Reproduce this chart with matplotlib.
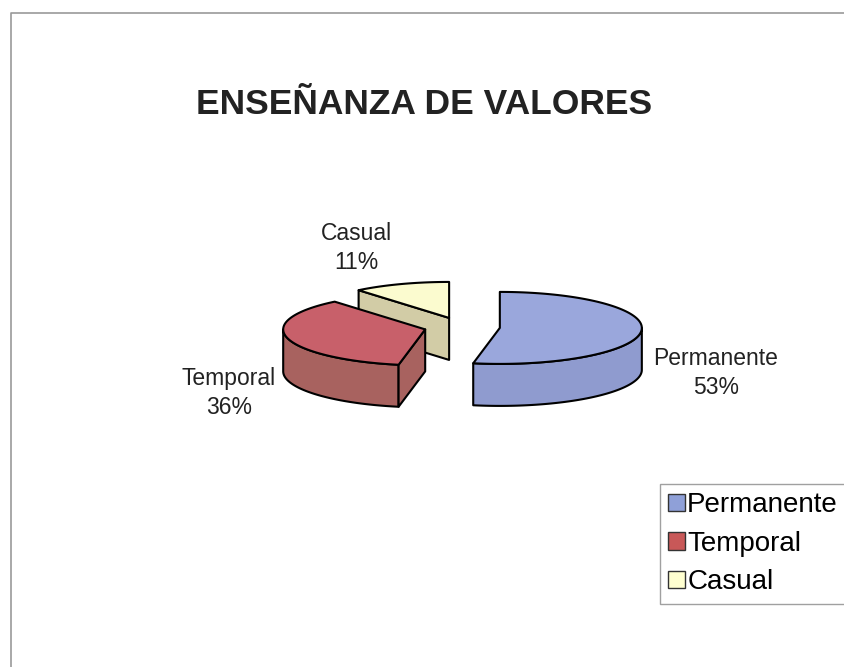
import numpy as np
import matplotlib.pyplot as plt
from matplotlib.patches import Polygon, Patch

plt.rcParams['font.family'] = ['Liberation Sans', 'DejaVu Sans']

labels = ['Permanente', 'Temporal', 'Casual']
values = [53, 36, 11]

top_colors = ['#9aa7dc', '#c8606a', '#fbfbcf']
side_colors = ['#8f9bcf', '#a8625f', '#d2cca6']
legend_colors = ['#8fa0d8', '#c85858', '#ffffd0']

# label positions (pixels)
label_pos = [(716, 373), (229, 393), (356, 248)]

W, H = 844, 667
fig = plt.figure(figsize=(W / 100, H / 100), dpi=100)
ax = fig.add_axes([0, 0, 1, 1])
ax.set_xlim(0, W)
ax.set_ylim(H, 0)
ax.axis('off')

# outer frame of the chart area
ax.plot([11, 11, W + 5], [H + 5, 13, 13], color='#999999', lw=1.2)

ax.text(424, 104, 'ENSEÑANZA DE VALORES', fontsize=25.5, fontweight='bold',
        color='#222222', ha='center', va='center')

cx, cy = 462, 327
rx, ry = 142, 36
depth = 42
explode = 38


def rim(x0, y0, angs, dz=0):
    a = np.radians(angs)
    return np.column_stack([x0 + rx * np.cos(a), y0 - ry * np.sin(a) + dz])


fracs = np.array(values) / sum(values)
start = 90.0
slices = []
for i, f in enumerate(fracs):
    a1 = start
    a0 = start - 360 * f
    start = a0
    mid = np.radians((a0 + a1) / 2)
    ox = cx + explode * np.cos(mid)
    oy = cy - explode * (ry / rx) * np.sin(mid)
    slices.append((i, a0, a1, ox, oy))

# back to front
for i, a0, a1, ox, oy in sorted(slices, key=lambda s: s[4]):
    # outer wall, front half only
    for k in (-1, 0, 1):
        lo = max(a0, -180 + 360 * k)
        hi = min(a1, 0 + 360 * k)
        if hi > lo:
            angs = np.linspace(lo, hi, 80)
            pts = np.vstack([rim(ox, oy, angs), rim(ox, oy, angs[::-1], depth)])
            ax.add_patch(Polygon(pts, closed=True, fc=side_colors[i], ec='black',
                                 lw=1.5, joinstyle='round'))
    # radial cut faces turned to the viewer
    for a, n in ((a0, a0 - 90), (a1, a1 + 90)):
        if np.sin(np.radians(n)) < -1e-6:
            p = rim(ox, oy, [a])[0]
            pts = [(ox, oy), (p[0], p[1]), (p[0], p[1] + depth), (ox, oy + depth)]
            ax.add_patch(Polygon(pts, closed=True, fc=side_colors[i], ec='black',
                                 lw=1.5, joinstyle='round'))
    angs = np.linspace(a0, a1, 120)
    pts = np.vstack([[ox, oy], rim(ox, oy, angs)])
    ax.add_patch(Polygon(pts, closed=True, fc=top_colors[i], ec='black',
                         lw=1.5, joinstyle='round'))

for lab, v, (x, y) in zip(labels, values, label_pos):
    ax.text(x, y, f'{lab}\n{v}%', fontsize=16.5, color='#222222',
            ha='center', va='center', linespacing=1.35)

handles = [Patch(facecolor=c, edgecolor='#333333', lw=1) for c in legend_colors]
leg = fig.legend(handles, labels, loc='upper left',
                 bbox_to_anchor=(660 / W, 1 - 484 / H), fontsize=20,
                 frameon=True, fancybox=False, edgecolor='#888888',
                 handlelength=0.6, handleheight=0.6, handletextpad=0.08,
                 labelspacing=0.45, borderpad=0.3, borderaxespad=0)
leg.get_frame().set_linewidth(1)

fig.savefig('out.png', dpi=100, facecolor='white')
